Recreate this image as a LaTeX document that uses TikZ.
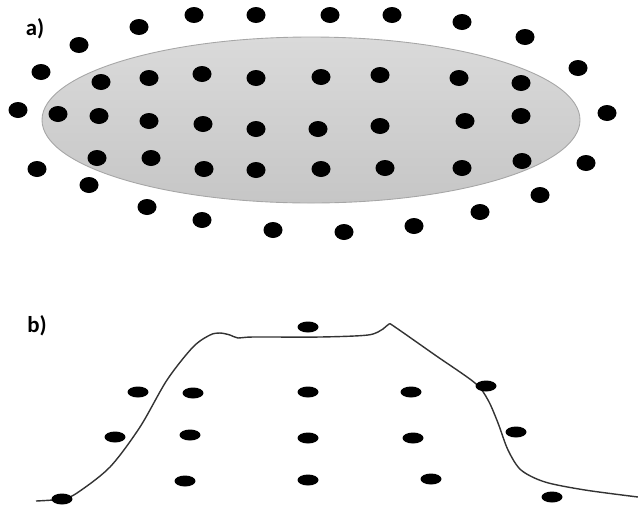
\documentclass[tikz,border=0pt]{standalone}
\usepackage{fontspec}
\newfontfamily\labelfont{Carlito}
\definecolor{disctop}{HTML}{DADADA}
\definecolor{discbot}{HTML}{C6C6C6}
\definecolor{discrim}{HTML}{A6A6A6}
\definecolor{curvegray}{HTML}{333333}
\tikzset{
  partlabel/.style={font=\labelfont\bfseries\fontsize{13}{15}\selectfont, inner sep=0pt},
}
\begin{document}
\begin{tikzpicture}[x=0.02cm, y=-0.02cm]
    \useasboundingbox (0,0) rectangle (638,511);

    % 1. Vung dien tich (hinh elip mau xam)
    \shade[top color=disctop, bottom color=discbot, draw=discrim, line width=0.5pt]
        (311,120) ellipse [x radius=269, y radius=83];
    \node[partlabel] (labA) at (35,29) {a)};

    % 2. Cac diem ben trong elip
    \foreach \px/\py in {101/82, 149/78, 202/74, 256/78, 321/77, 380/75, 459/78, 521/83,
                         58/114, 99/116, 149/121, 203/124, 256/129, 318/129, 380/126, 465/121, 521/116,
                         97/158, 151/158, 204/169, 256/170, 321/169, 385/168, 462/168, 522/161}
        \fill (\px,\py) ellipse [x radius=9.5, y radius=8];

    % 3. Cac diem ben ngoai elip
    \foreach \px/\py in {139/27, 194/15, 256/15, 330/15, 392/15, 462/22, 525/37, 578/68,
                         607/113, 586/163, 540/195, 480/212, 414/226, 344/232, 273/230,
                         202/220, 147/207, 89/185, 37/169, 18/110, 41/72, 79/45}
        \fill (\px,\py) ellipse [x radius=9.5, y radius=8];

    % 4. Hinh b: duong cong
    \node[partlabel] (labB) at (37,326) {b)};
    \draw[curvegray, line width=0.8pt, line join=round] plot[smooth, tension=0.5] coordinates {
        (36,501) (62,499) (77,493) (110,467) (140,427) (167,380) (193,347) (210,335)
        (220,333) (230,335) (238,338) (253,337) (320,337) (368,335) (383,329) (389,324)
        (395,327) (435,355) (475,383) (488,400) (498,423) (508,450) (521,470) (545,482)
        (585,490) (638,497)};

    % 5. Hinh b: cac diem
    \foreach \px/\py in {62/499, 138/392, 193/393, 115/437, 190/435, 185/481,
                         308/327, 308/392, 308/438, 308/480,
                         411/392, 413/438, 431/479, 486/386, 516/432, 552/497}
        \fill (\px,\py) ellipse [x radius=10.5, y radius=5.5];
\end{tikzpicture}
\end{document}
